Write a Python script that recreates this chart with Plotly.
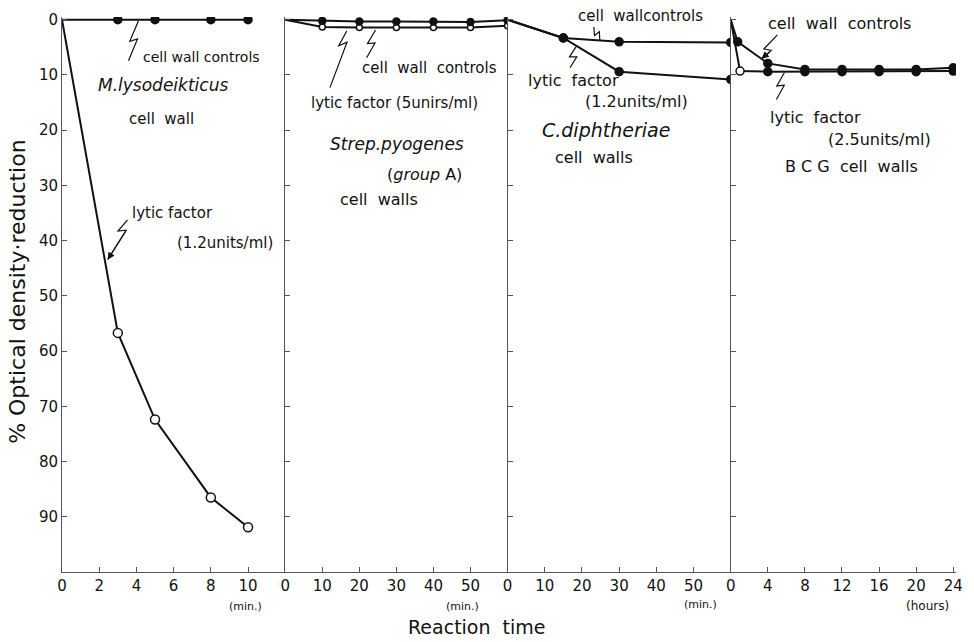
import math
import plotly.graph_objects as go

# ---------------- data ----------------
# Panel 1: M. lysodeikticus cell wall (minutes)
p1_t_ctrl = [0, 3, 5, 8, 10]
p1_ctrl = [0, 0, 0, 0, 0]
p1_t_lytic = [0, 3, 5, 8, 10]
p1_lytic = [0, 56.7, 72.4, 86.5, 91.9]

# Panel 2: Strep. pyogenes (group A) cell walls (minutes)
p2_t = [0, 10, 20, 30, 40, 50, 60]
p2_ctrl = [0, 0.2, 0.3, 0.3, 0.3, 0.4, 0.1]
p2_lytic = [0, 1.3, 1.4, 1.4, 1.4, 1.4, 1.1]

# Panel 3: C. diphtheriae cell walls (minutes)
p3_t = [0, 15, 30, 60]
p3_ctrl = [0, 3.3, 4.0, 4.1]
p3_lytic = [0, 3.3, 9.4, 10.8]

# Panel 4: BCG cell walls (hours)
p4_t_ctrl = [0, 0.75, 4, 8, 12, 16, 20, 24]
p4_ctrl = [0, 4.0, 7.9, 9.0, 9.0, 9.0, 9.0, 8.7]
p4_t_lytic = [0, 1, 4, 8, 12, 16, 20, 24]
p4_lytic = [0, 9.3, 9.4, 9.4, 9.4, 9.4, 9.4, 9.3]

p1_ticks = [0, 2, 4, 6, 8, 10]
p2_ticks = [0, 10, 20, 30, 40, 50]
p3_ticks = [0, 10, 20, 30, 40, 50]
p4_ticks = [0, 4, 8, 12, 16, 20, 24]
y_ticks = [0, 10, 20, 30, 40, 50, 60, 70, 80, 90]

# ---------------- layout geometry ----------------
W, H = 974, 642
L, R, T, B = 62, 11, 14, 70
PW, PH = W - L - R, H - T - B
edges = [62, 287, 511, 736, 963]
domains = [[(edges[i] - L) / PW, (edges[i + 1] - L) / PW] for i in range(4)]
domains[-1][1] = 1.0
xranges = [[0, 12], [0, 60], [0, 60], [0, 24.3]]

INK = "#111111"
AX = "#555555"
FONT = "DejaVu Sans"
NB = "\u00a0"


def P(px, py):
    return (px - L) / PW, (H - B - py) / PH


fig = go.Figure()


def add_series(k, x, y, filled, size=7, first_hidden=True):
    xa = "x" if k == 1 else f"x{k}"
    ya = "y" if k == 1 else f"y{k}"
    sizes = [size] * len(x)
    if first_hidden:
        sizes[0] = 0
    if isinstance(filled, bool):
        filled = [filled] * len(x)
    fills = [INK if f else "#ffffff" for f in filled]
    fig.add_trace(go.Scatter(
        x=x, y=y, xaxis=xa, yaxis=ya, mode="lines+markers",
        line=dict(color=INK, width=2),
        marker=dict(size=sizes, color=fills, opacity=1,
                    line=dict(color=INK, width=1.5)),
        opacity=1, showlegend=False, hoverinfo="skip"))


add_series(1, p1_t_ctrl, p1_ctrl, True, size=8)
add_series(1, p1_t_lytic, p1_lytic, False, size=9)
add_series(2, p2_t, p2_lytic, False, size=6)
add_series(2, p2_t, p2_ctrl, True)
add_series(3, p3_t, p3_ctrl, True, size=8)
add_series(3, p3_t, p3_lytic, True, size=8)
add_series(4, p4_t_lytic, p4_lytic, [True, False, True, True, True, True, True, True], size=8)
add_series(4, p4_t_ctrl, p4_ctrl, True, size=8)

ticks_list = [p1_ticks, p2_ticks, p3_ticks, p4_ticks]
lay = dict(
    width=W, height=H, margin=dict(l=L, r=R, t=T, b=B),
    paper_bgcolor="white", plot_bgcolor="white",
    font=dict(family=FONT, color=INK),
)
for k in range(1, 5):
    xs = "xaxis" if k == 1 else f"xaxis{k}"
    ys = "yaxis" if k == 1 else f"yaxis{k}"
    xa = "x" if k == 1 else f"x{k}"
    ya = "y" if k == 1 else f"y{k}"
    lay[xs] = dict(domain=domains[k - 1], range=xranges[k - 1], anchor=ya,
                   tickvals=ticks_list[k - 1], ticks="inside", ticklen=5,
                   tickcolor=AX, showline=True, linecolor=AX, linewidth=1,
                   showgrid=False, zeroline=False,
                   tickfont=dict(size=15, color=INK, family=FONT))
    lay[ys] = dict(domain=[0, 1], range=[100, -0.5], anchor=xa,
                   tickvals=y_ticks, ticks="inside", ticklen=5, tickcolor=AX,
                   showline=True, linecolor=AX, linewidth=1,
                   showgrid=False, zeroline=False,
                   showticklabels=(k == 1),
                   tickfont=dict(size=15, color=INK, family=FONT))
fig.update_layout(**lay)


# ---------------- text labels ----------------
def label(px, py, text, size=13, italic=False, angle=0):
    x, y = P(px, py)
    text = text.replace("  ", NB + NB)
    if italic:
        text = f"<i>{text}</i>"
    fig.add_annotation(x=x, y=y, xref="paper", yref="paper", text=text,
                       showarrow=False, xanchor="center", yanchor="middle",
                       textangle=angle,
                       font=dict(size=size, color=INK, family=FONT))


label(203, 54, "cell wall controls", 14)
label(164, 82, "M.lysodeikticus", 17, italic=True)
label(162, 117, "cell  wall", 15)
label(173, 211, "lytic factor", 15)
label(226, 241, "(1.2units/ml)", 15)

label(432, 65, "cell  wall  controls", 15)
label(397, 100, "lytic factor (5unirs/ml)", 15)
label(400, 142, "Strep.pyogenes", 17, italic=True)
label(427, 172, "(<i>group</i> A)", 16)
label(381, 197, "cell  walls", 16)

label(645, 13, "cell  wallcontrols", 15)
label(578, 78, "lytic  factor", 16)
label(641, 99, "(1.2units/ml)", 16)
label(610, 128, "C.diphtheriae", 19, italic=True)
label(598, 155, "cell  walls", 16)

label(846, 21, "cell  wall  controls", 16)
label(821, 115, "lytic  factor", 16)
label(886, 137, "(2.5units/ml)", 16)
label(858, 164, "B C G  cell  walls", 16)

label(247, 607, "(min.)", 11)
label(466, 607, "(min.)", 11)
label(706, 605, "(min.)", 11)
label(934, 606, "(hours)", 12)

label(480, 627, "Reaction  time", 19)
label(17, 290, "% Optical density·reduction", 22, angle=-90)


# ---------------- lightning-bolt pointers ----------------
def bolt(tail, head, t=0.5, jog=3.5, arrow=False):
    (x0, y0), (x1, y1) = tail, head
    dx, dy = x1 - x0, y1 - y0
    ln = math.hypot(dx, dy)
    ux, uy = dx / ln, dy / ln
    nx, ny = -uy, ux
    b = (x0 + (t + 0.07) * dx + jog * nx, y0 + (t + 0.07) * dy + jog * ny)
    c = (x0 + (t - 0.03) * dx - jog * nx, y0 + (t - 0.03) * dy - jog * ny)
    pts = [tail, b, c, head]
    path = ""
    for i, (px, py) in enumerate(pts):
        X, Y = P(px, py)
        path += ("M" if i == 0 else "L") + f"{X:.5f},{Y:.5f} "
    fig.add_shape(type="path", path=path, xref="paper", yref="paper",
                  line=dict(color=INK, width=1.2))
    if arrow:
        hx, hy = P(*head)
        fig.add_annotation(x=hx, y=hy, xref="paper", yref="paper", text="",
                           showarrow=True, arrowhead=2, arrowsize=1.2,
                           arrowwidth=1.2, arrowcolor=INK,
                           ax=c[0] - x1, ay=c[1] - y1)


bolt((129, 58), (139, 18), t=0.5)
bolt((128, 218), (108, 258), t=0.25, arrow=True)
bolt((332, 85), (349, 28), t=0.75)
bolt((369, 55), (378, 27), t=0.5)
bolt((598, 24), (604, 37), t=0.5, jog=3)
bolt((574, 65), (580, 44), t=0.5)
bolt((783, 32), (767, 56), t=0.6, arrow=True)
bolt((782, 97), (790, 70), t=0.5)

fig.write_html("out.html")
